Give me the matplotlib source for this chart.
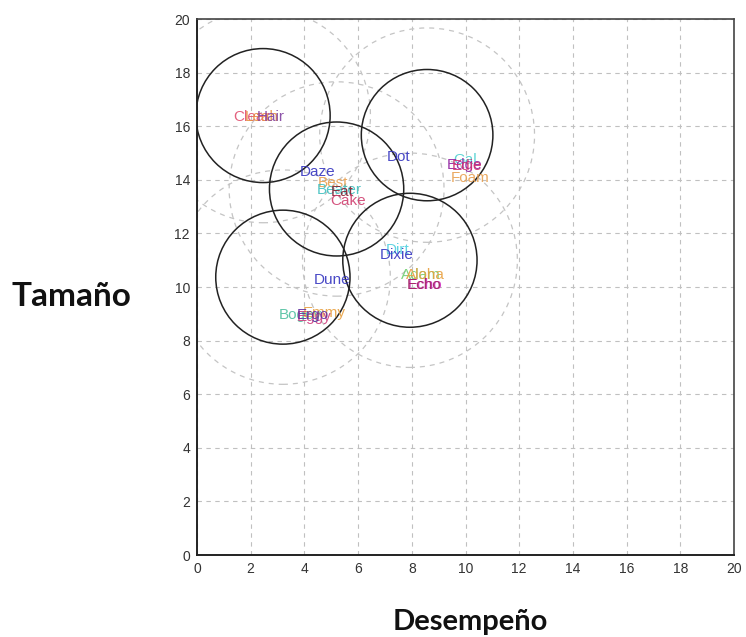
import matplotlib
matplotlib.use("Agg")
import matplotlib.pyplot as plt
from matplotlib.patches import Circle

# cluster circles
center_x = [2.46, 8.57, 5.2, 3.2, 7.93]
center_y = [16.4, 15.67, 13.66, 10.37, 11.0]
inner_r = [2.5, 2.45, 2.5, 2.5, 2.5]
outer_r = [4.0, 4.0, 4.0, 4.0, 4.0]

# point labels
labels = ["Clear", "Leah", "Hair",
          "Daze", "Best", "Beater", "Eat", "Cake",
          "Dot", "Gal", "Edge", "Edie", "Foam",
          "Dirt", "Dixie", "Adam", "Aloha", "Echo", "Echo",
          "Dune", "Bogey", "Emmy", "Eggy", "Ergo"]
label_x = [2.05, 2.4, 2.75,
           4.5, 5.07, 5.3, 5.4, 5.62,
           7.49, 9.98, 9.98, 10.05, 10.17,
           7.49, 7.45, 8.35, 8.5, 8.49, 8.45,
           5.03, 3.85, 4.75, 4.35, 4.3]
label_y = [16.34, 16.34, 16.34,
           14.29, 13.88, 13.62, 13.55, 13.21,
           14.85, 14.74, 14.55, 14.5, 14.07,
           11.38, 11.19, 10.45, 10.45, 10.07, 10.07,
           10.26, 8.96, 9.05, 8.9, 8.96]
label_colors = ["#e05070", "#e89040", "#8040a0",
                "#3535c0", "#e8a050", "#40c0c0", "#802030", "#d04070",
                "#3535c0", "#50d0d0", "#9020a0", "#d03070", "#e8a050",
                "#50d0e0", "#3535c0", "#70d070", "#e8a040", "#d030c0", "#a02060",
                "#3535c0", "#50c0a0", "#e8a040", "#d04080", "#6030a0"]

x_ticks = list(range(0, 21, 2))
y_ticks = list(range(0, 21, 2))

fig = plt.figure(figsize=(7.46, 6.37), dpi=100)
ax = fig.add_axes([0.264, 0.1287, 0.72, 0.8413])
ax.set_xlim(0, 20)
ax.set_ylim(0, 20)
ax.set_xticks(x_ticks)
ax.set_yticks(y_ticks)
ax.tick_params(length=0, labelsize=10, pad=5, colors="#333333")
for lab in ax.get_xticklabels() + ax.get_yticklabels():
    lab.set_family("Liberation Sans")
ax.grid(True, color="#c0c0c0", linestyle=(0, (4, 4)), linewidth=0.8)
ax.set_axisbelow(True)
for side in ["left", "bottom"]:
    ax.spines[side].set_linewidth(1.4)
    ax.spines[side].set_color("#222222")
for side in ["top", "right"]:
    ax.spines[side].set_linewidth(1.2)
    ax.spines[side].set_color("#444444")

for cx, cy, r in zip(center_x, center_y, outer_r):
    ax.add_patch(Circle((cx, cy), r, fill=False, edgecolor="#c4c4c4",
                        linestyle=(0, (4, 4)), linewidth=0.9))
for cx, cy, r in zip(center_x, center_y, inner_r):
    ax.add_patch(Circle((cx, cy), r, fill=False, edgecolor="#222222",
                        linewidth=1.1))

for t, x, y, c in zip(labels, label_x, label_y, label_colors):
    ax.text(x, y, t, color=c, fontsize=11, ha="center", va="center",
            family="Liberation Sans", alpha=0.9)

fig.text(0.096, 0.534, "Tamaño", fontsize=24, fontweight="bold", family="Lato",
         ha="center", va="center", color="#111111")
fig.text(0.63, 0.024, "Desempeño", fontsize=21, fontweight="bold", family="Lato",
         ha="center", va="center", color="#111111")

fig.savefig("out.png", dpi=100)
